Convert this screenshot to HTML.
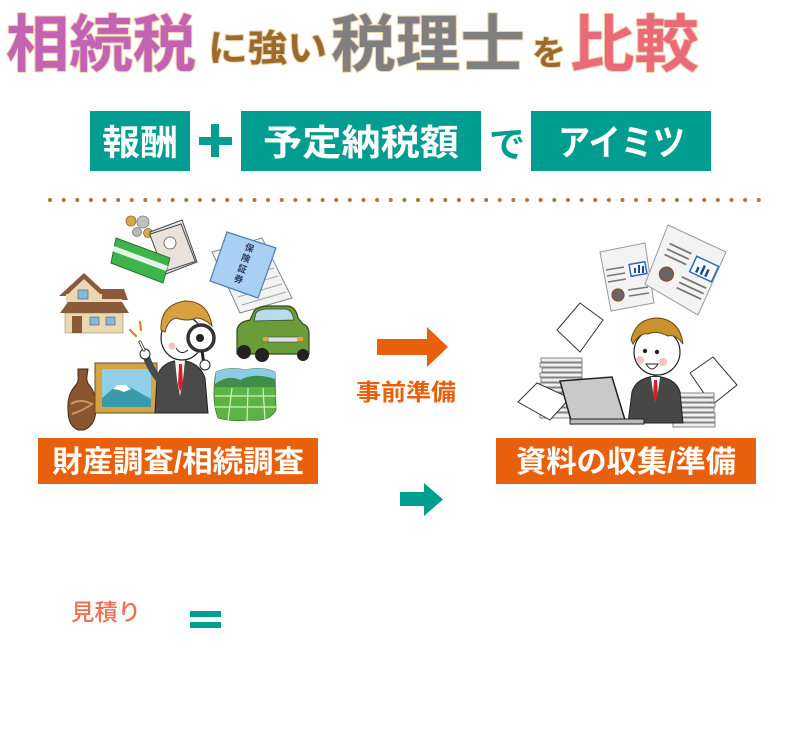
<!DOCTYPE html>
<html><head><meta charset="utf-8"><style>
html,body{margin:0;padding:0;background:#fff;}
svg{display:block;}
text{font-family:"Liberation Sans","Noto Sans CJK JP",sans-serif;font-weight:bold;}
</style></head><body>
<svg width="800" height="750" viewBox="0 0 800 750" xmlns="http://www.w3.org/2000/svg">
<rect width="800" height="750" fill="#fff"/>
<!-- Title -->
<g stroke="#eed3a9" stroke-width="2" paint-order="stroke" stroke-linejoin="round">
<text x="6" y="66" font-size="62" fill="#c462b4" textLength="190" lengthAdjust="spacingAndGlyphs">相続税</text>
<text x="208" y="61" font-size="37" fill="#9b6b2e" textLength="119" lengthAdjust="spacingAndGlyphs">に強い</text>
<text x="331" y="66" font-size="62" fill="#808080" textLength="194" lengthAdjust="spacingAndGlyphs">税理士</text>
<text x="532" y="65" font-size="34" fill="#9b6b2e">を</text>
<text x="570" y="66" font-size="62" fill="#eb6a79" textLength="129" lengthAdjust="spacingAndGlyphs">比較</text>
</g>
<!-- Teal boxes row -->
<rect x="90" y="111" width="100" height="60" fill="#009d90"/>
<text x="140" y="155" font-size="35" fill="#fff" text-anchor="middle" textLength="76" lengthAdjust="spacingAndGlyphs">報酬</text>
<rect x="199" y="137" width="33" height="8" fill="#009d90"/>
<rect x="211" y="124" width="8" height="33" fill="#009d90"/>
<rect x="241" y="111" width="240" height="60" fill="#009d90"/>
<text x="263" y="155" font-size="36" fill="#fff" textLength="196" lengthAdjust="spacingAndGlyphs">予定納税額</text>
<text x="489" y="157" font-size="36" fill="#009d90">で</text>
<rect x="531" y="111" width="180" height="60" fill="#009d90"/>
<text x="558" y="155" font-size="36" fill="#fff" textLength="127" lengthAdjust="spacingAndGlyphs">アイミツ</text>
<!-- dotted line -->
<g fill="#a57a3e" id="dots"></g>
<line x1="50" y1="200" x2="760" y2="200" stroke="#a57a3e" stroke-width="4" stroke-linecap="round" stroke-dasharray="0 13.63"/>

<!-- LEFT ILLUSTRATION -->
<!-- coins -->
<circle cx="131" cy="221" r="5" fill="#d9a94a" stroke="#8a6a2a" stroke-width="0.8"/>
<circle cx="143" cy="222" r="6" fill="#c0c0c0" stroke="#777" stroke-width="0.8"/>
<circle cx="137" cy="232" r="4.5" fill="#b8b8b8" stroke="#777" stroke-width="0.8"/>
<circle cx="148" cy="233" r="4.5" fill="#d9a94a" stroke="#8a6a2a" stroke-width="0.8"/>
<!-- banknotes -->
<polygon points="150,232 182,220 197,262 166,274" fill="#dfe8f0" stroke="#444" stroke-width="1"/>
<polygon points="155,228 188,228 190,268 157,268" fill="#e9e2da" stroke="#444" stroke-width="1" transform="rotate(-18 172 248)"/>
<circle cx="170" cy="243" r="6" fill="#fff" stroke="#555" stroke-width="0.8"/>
<!-- bankbook -->
<polygon points="116,238 170,258 163,283 111,263" fill="#3db54a" stroke="#2c6e30" stroke-width="1"/>
<polygon points="114,246 168,266 166,271 112,251" fill="#e6f4e6"/>
<!-- papers behind insurance -->
<polygon points="212,252 262,238 292,298 240,313" fill="#f3f3f3" stroke="#888" stroke-width="1"/>
<g stroke="#9aa" stroke-width="1"><line x1="222" y1="265" x2="266" y2="252"/><line x1="226" y1="273" x2="270" y2="260"/><line x1="230" y1="281" x2="274" y2="268"/><line x1="234" y1="289" x2="278" y2="276"/><line x1="238" y1="297" x2="282" y2="284"/><line x1="242" y1="305" x2="286" y2="292"/></g>
<!-- insurance card -->
<polygon points="227,232 276,248 258,298 210,281" fill="#a9cff2" stroke="#4d7fb3" stroke-width="1.2"/>
<g font-size="9" fill="#2a3a5a" transform="rotate(19 243 265)"><text x="239" y="250">保</text><text x="239" y="261">険</text><text x="239" y="272">証</text><text x="239" y="283">券</text></g>
<!-- house -->
<polygon points="100,289 124,289 128,300 98,300" fill="#8b5a3a"/>
<polygon points="59,296 84,273 109,296" fill="#8b5a3a"/>
<polygon points="66,296 84,279 102,296" fill="#e9d8b2"/>
<rect x="66" y="294" width="36" height="9" fill="#e9d8b2"/>
<rect x="102" y="299" width="20" height="4" fill="#e9d8b2"/>
<rect x="78" y="290" width="10" height="9" fill="#86b8e4" stroke="#555" stroke-width="0.6"/>
<polygon points="60,313 68,302 122,302 129,313" fill="#8b5a3a"/>
<rect x="65" y="313" width="58" height="20" fill="#e9d8b2" stroke="#8a7a5a" stroke-width="0.5"/>
<rect x="72" y="316" width="10" height="17" fill="#8b5a3a"/>
<rect x="90" y="317" width="9" height="8" fill="#86b8e4" stroke="#555" stroke-width="0.6"/>
<rect x="106" y="317" width="9" height="8" fill="#86b8e4" stroke="#555" stroke-width="0.6"/>
<!-- car -->
<path d="M237 330 Q238 322 250 320 L254 311 Q258 306 270 306 L288 306 Q296 307 298 318 L303 324 Q309 326 309 334 L309 354 L237 354 Z" fill="#6a9c3a" stroke="#2f4a1f" stroke-width="1.2"/>
<path d="M256 313 Q259 309 268 309 L286 309 Q292 310 294 320 L254 321 Z" fill="#b8dcec" stroke="#2f4a1f" stroke-width="0.8"/>
<rect x="268" y="337" width="30" height="5" fill="#dde" stroke="#333" stroke-width="0.5"/>
<rect x="263" y="337" width="5" height="4" fill="#f0a040"/><rect x="298" y="337" width="5" height="4" fill="#f0a040"/>
<circle cx="244" cy="352" r="7" fill="#222"/><circle cx="262" cy="355" r="7" fill="#222"/><circle cx="303" cy="355" r="6" fill="#222"/>
<!-- field -->
<path d="M216 372 Q230 366 245 370 Q262 366 275 372 L276 410 Q270 422 250 420 Q232 422 218 418 Q211 400 216 372 Z" fill="#5cb447" stroke="#3a7a2a" stroke-width="0.8"/>
<path d="M216 372 Q230 366 245 370 Q262 366 275 372 L275 384 L215 384 Z" fill="#8ecbe8"/>
<path d="M215 384 Q228 374 240 380 Q255 372 275 379 L275 387 L215 387 Z" fill="#3e8e4a"/>
<g stroke="#d8f0c0" stroke-width="1.2"><line x1="215" y1="396" x2="276" y2="396"/><line x1="214" y1="407" x2="276" y2="407"/><line x1="232" y1="388" x2="228" y2="421"/><line x1="248" y1="388" x2="247" y2="421"/><line x1="263" y1="388" x2="265" y2="420"/></g>
<!-- vase -->
<path d="M78 369 L88 369 L87 376 Q86 382 90 386 Q97 395 96 410 Q95 426 84 430 L78 430 Q68 426 68 410 Q67 395 75 386 Q79 382 78 376 Z" fill="#8b5530" stroke="#4a2a14" stroke-width="1"/>
<path d="M71 404 Q80 398 92 404 Q84 410 72 414" fill="none" stroke="#c89a60" stroke-width="2"/>
<!-- painting -->
<rect x="95" y="363" width="62" height="50" fill="#d5a544" stroke="#6a5020" stroke-width="1"/>
<rect x="102" y="369" width="49" height="38" fill="#8fd0e8"/>
<polygon points="102,407 102,398 117,385 126,385 151,399 151,407" fill="#3a9aa8"/>
<polygon points="113,389 117,385 126,385 131,389 124,392 119,390" fill="#fff"/>
<!-- person left -->
<path d="M155 413 L157 378 Q160 362 180 360 Q200 362 205 378 L208 413 Z" fill="#4a4a4a" stroke="#222" stroke-width="1"/>
<polygon points="175,360 185,360 183,380 180,396 177,380" fill="#fff"/>
<polygon points="179,364 182,364 183,384 180,392 178,384" fill="#d4202a"/>
<path d="M158 378 Q150 368 146 356" fill="none" stroke="#4a4a4a" stroke-width="7" stroke-linecap="round"/>
<ellipse cx="145" cy="354" rx="5" ry="5" fill="#fff" stroke="#222" stroke-width="1"/>
<line x1="144" y1="350" x2="140" y2="342" stroke="#222" stroke-width="3" stroke-linecap="round"/>
<line x1="144" y1="350" x2="140" y2="342" stroke="#fff" stroke-width="1.5" stroke-linecap="round"/>
<ellipse cx="182" cy="338" rx="21" ry="22" fill="#fff" stroke="#222" stroke-width="1.2"/>
<path d="M161 330 Q160 305 185 301 Q208 301 212 326 Q204 318 196 318 Q188 322 176 318 Q168 320 165 332 Z" fill="#d8a040" stroke="#6a4a10" stroke-width="1"/>
<circle cx="172" cy="346" r="3.5" fill="#f8c0c0"/>
<path d="M176 348 Q181 356 188 350" fill="#fff" stroke="#222" stroke-width="1"/>
<line x1="202" y1="350" x2="204" y2="366" stroke="#222" stroke-width="3"/>
<circle cx="201" cy="338" r="13" fill="#fff" stroke="#333" stroke-width="3.5"/>
<circle cx="200" cy="338" r="4" fill="#222"/>
<circle cx="205" cy="365" r="5" fill="#fff" stroke="#222" stroke-width="1"/>
<g stroke="#f07a20" stroke-width="2.2" stroke-linecap="round"><line x1="130" y1="330" x2="136" y2="336"/><line x1="140" y1="322" x2="141" y2="330"/></g>

<!-- Labels -->
<rect x="38" y="438" width="280" height="46" fill="#e8600c"/>
<text x="52" y="472" font-size="30" fill="#fff" textLength="252" lengthAdjust="spacingAndGlyphs">財産調査/相続調査</text>
<rect x="496" y="438" width="260" height="46" fill="#e8600c"/>
<text x="516" y="472" font-size="30" fill="#fff" textLength="220" lengthAdjust="spacingAndGlyphs">資料の収集/準備</text>

<!-- arrows -->
<polygon points="377,339 427,339 427,327 448,347 427,367 427,355 377,355" fill="#e8600c"/>
<text x="356" y="400" font-size="23" fill="#e8600c" textLength="100" lengthAdjust="spacingAndGlyphs">事前準備</text>
<polygon points="400,492 424,492 424,483 443,499.5 424,516 424,506 400,506" fill="#009d90"/>

<!-- RIGHT ILLUSTRATION -->
<!-- report 1 -->
<polygon points="600,252 645,243 654,303 611,311" fill="#f3f3f3" stroke="#999" stroke-width="1"/>
<rect x="630" y="263" width="16" height="12" fill="#fff" stroke="#2a6ac0" stroke-width="1.5" transform="rotate(-10 638 269)"/>
<g fill="#1a4aa0"><rect x="634" y="268" width="2" height="5"/><rect x="638" y="265" width="2" height="8"/><rect x="642" y="266" width="2" height="7"/></g>
<circle cx="618" cy="295" r="6" fill="#666" stroke="#a04020" stroke-width="1.2"/>
<g stroke="#777" stroke-width="1.5"><line x1="606" y1="270" x2="624" y2="267"/><line x1="607" y1="276" x2="625" y2="273"/><line x1="608" y1="282" x2="626" y2="279"/><line x1="628" y1="290" x2="648" y2="287"/><line x1="629" y1="296" x2="649" y2="293"/></g>
<!-- report 2 -->
<polygon points="668,225 726,252 698,315 645,284" fill="#f3f3f3" stroke="#999" stroke-width="1"/>
<g transform="rotate(25 686 270)">
<rect x="690" y="253" width="24" height="17" fill="#fff" stroke="#2a6ac0" stroke-width="1.5"/>
<g fill="#1a4aa0"><rect x="695" y="262" width="2.5" height="6"/><rect x="700" y="258" width="2.5" height="10"/><rect x="705" y="260" width="2.5" height="8"/></g>
<g stroke="#777" stroke-width="1.8"><line x1="660" y1="253" x2="684" y2="253"/><line x1="660" y1="259" x2="684" y2="259"/><line x1="660" y1="265" x2="684" y2="265"/><line x1="685" y1="278" x2="712" y2="278"/><line x1="685" y1="284" x2="712" y2="284"/><line x1="685" y1="290" x2="712" y2="290"/></g>
<circle cx="670" cy="282" r="7" fill="#666" stroke="#a04020" stroke-width="1.2"/>
</g>
<!-- flying papers -->
<polygon points="557,330 580,303 603,320 580,352" fill="#fff" stroke="#333" stroke-width="1"/>
<polygon points="690,373 713,357 737,385 712,405" fill="#fff" stroke="#333" stroke-width="1"/>
<!-- paper stacks -->
<g fill="#f0f0f0" stroke="#666" stroke-width="0.8">
<rect x="541" y="358" width="41" height="4"/><rect x="540" y="363" width="42" height="4"/><rect x="542" y="368" width="40" height="4"/><rect x="540" y="373" width="42" height="4"/><rect x="541" y="378" width="41" height="4"/><rect x="540" y="383" width="42" height="4"/><rect x="541" y="388" width="41" height="4"/><rect x="540" y="393" width="42" height="4"/><rect x="541" y="398" width="41" height="4"/><rect x="540" y="403" width="42" height="4"/><rect x="541" y="408" width="41" height="4"/><rect x="540" y="413" width="42" height="5"/>
<rect x="673" y="393" width="41" height="4"/><rect x="674" y="398" width="40" height="4"/><rect x="673" y="403" width="42" height="4"/><rect x="674" y="408" width="40" height="4"/><rect x="673" y="413" width="42" height="4"/><rect x="674" y="418" width="41" height="4"/><rect x="673" y="423" width="42" height="4"/>
</g>
<polygon points="518,402 537,383 570,398 550,420" fill="#fff" stroke="#333" stroke-width="1"/>
<!-- person right -->
<path d="M628 423 L632 392 Q636 378 655 376 Q676 378 680 392 L683 423 Z" fill="#474747" stroke="#222" stroke-width="1"/>
<polygon points="651,377 660,377 658,392 655,402 653,392" fill="#fff"/>
<polygon points="654,380 657,380 658,396 655,402 653,396" fill="#d4202a"/>
<circle cx="657" cy="352" r="23" fill="#fff" stroke="#222" stroke-width="1.2"/>
<path d="M631 340 Q636 318 658 318 Q680 320 683 344 Q676 334 668 336 Q656 330 648 334 Q640 332 633 344 Z" fill="#c8922e" stroke="#6a4a10" stroke-width="1"/>
<circle cx="640" cy="360" r="4" fill="#f8c0c0"/><circle cx="663" cy="362" r="4" fill="#f8c0c0"/>
<circle cx="645" cy="351" r="2.2" fill="#222"/><circle cx="657" cy="352" r="2.2" fill="#222"/>
<path d="M646 364 Q652 374 658 364 Z" fill="#fff" stroke="#222" stroke-width="1"/>
<!-- laptop -->
<polygon points="560,381 612,377 625,420 572,424" fill="#c9c9c9" stroke="#222" stroke-width="1.5"/>
<rect x="570" y="419" width="74" height="5" fill="#bbb" stroke="#222" stroke-width="1"/>

<!-- bottom -->
<text x="71" y="620" font-size="23" fill="#ef7050" textLength="70" lengthAdjust="spacingAndGlyphs" style="font-weight:500">見積り</text>
<rect x="190" y="611" width="31" height="6" fill="#009d90"/>
<rect x="190" y="622" width="31" height="6" fill="#009d90"/>
</svg>
</body></html>
